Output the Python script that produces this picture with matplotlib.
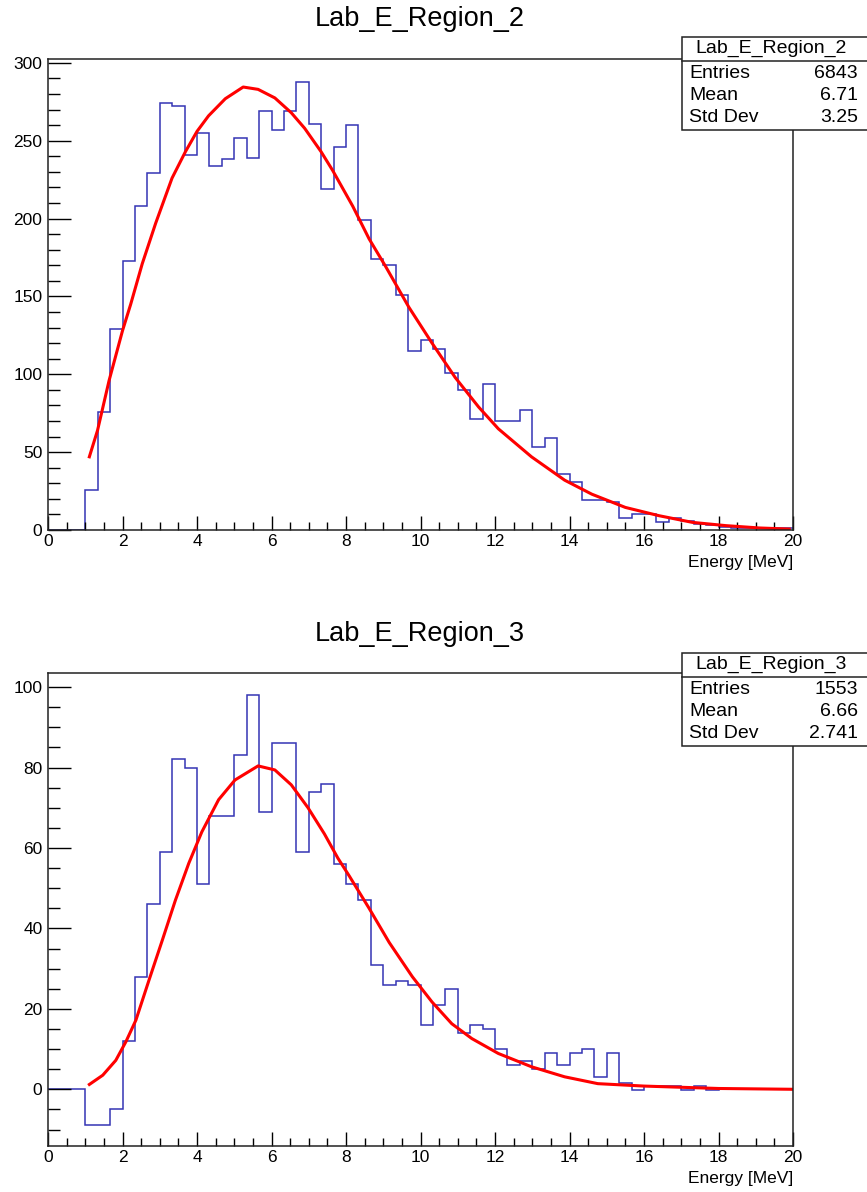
import numpy as np
import matplotlib
matplotlib.use("Agg")
import matplotlib.pyplot as plt
from matplotlib.patches import Rectangle
from matplotlib.lines import Line2D
from matplotlib.ticker import MultipleLocator

plt.rcParams['font.family'] = ['Liberation Sans', 'DejaVu Sans']

# ---- Data (60 bins of 1/3 MeV from 0 to 20) ----
bin_edges = np.linspace(0, 20, 61)

region2_counts = [0, 0, 0, 26, 76, 129, 173, 208, 229, 274, 272, 241,
                  255, 234, 238, 252, 239, 269, 257, 269, 288, 261, 219, 246,
                  260, 199, 174, 170, 151, 115, 122, 116, 101, 90, 71, 94,
                  70, 70, 77, 53, 59, 36, 31, 19, 19, 18, 8, 10,
                  10, 5, 7.5, 6, 4, 3, 2, 1, 1, 1, 1, 1]
region3_counts = [0, 0, 0, -8.8, -8.8, -4.8, 12, 28, 46, 59, 82, 80,
                  51, 68, 68, 83, 98, 69, 86, 86, 59, 74, 76, 56,
                  51, 47, 31, 26, 27, 26, 16, 21, 25, 14, 16, 15,
                  10, 6, 7, 5, 9, 6, 9, 10, 3, 9, 1.5, -0.3,
                  0.8, 0.8, 0.8, -0.2, 0.8, -0.2, 0, 0, 0, 0, 0, 0]

# fit curves
region2_fit_x = [1.11, 1.33, 1.64, 2.0, 2.22, 2.53, 2.89, 3.33, 3.69, 4.0, 4.31, 4.76,
                 5.24, 5.64, 6.09, 6.53, 6.89, 7.33, 7.64, 8.18, 8.62, 9.07, 9.69,
                 10.31, 10.93, 11.56, 12.09, 12.98, 13.87, 14.6, 15.5, 16.4, 17.3,
                 18.2, 19.1, 19.9]
region2_fit_y = [47, 64, 96, 128, 145, 171, 197, 226, 243, 256, 266, 277,
                 284.5, 283, 277.5, 268, 258, 243, 231, 208, 187, 169, 143,
                 120, 98, 79, 65, 47, 32, 23, 14.5, 9.2, 4.9,
                 2.8, 1.3, 0.6]
region3_fit_x = [1.11, 1.47, 1.82, 2.09, 2.36, 2.71, 3.07, 3.42, 3.78, 4.13, 4.58, 5.02,
                 5.64, 6.09, 6.53, 6.98, 7.42, 7.78, 8.09, 8.62, 9.16, 9.78, 10.31,
                 10.84, 11.38, 12.09, 12.98, 13.87, 14.76, 16.0, 18.0, 20.0]
region3_fit_y = [1.2, 3.5, 7.2, 11.8, 17.2, 27.1, 37.1, 47, 56.2, 64, 72, 76.9,
                 80.4, 79.4, 75.7, 70, 63.5, 57.5, 53, 45, 36.5, 28, 21.7,
                 16.3, 12.6, 8.9, 5.6, 3.1, 1.4, 0.8, 0.2, 0.0]

names = ["Lab_E_Region_2", "Lab_E_Region_3"]
entries = ["6843", "1553"]
means = ["6.71", "6.66"]
stddevs = ["3.25", "2.741"]

# ---- Plotting ----
W, H = 867, 1192
fig = plt.figure(figsize=(W / 100, H / 100), dpi=100)

def fx(px):
    return px / W

def fy(py):
    return 1 - py / H

panels = [
    dict(counts=region2_counts, fx_=region2_fit_x, fy_=region2_fit_y, top=59, bottom=530,
         ylim=(0, 302.5), major=50, minor=10, title_y=19, box_y=37),
    dict(counts=region3_counts, fx_=region3_fit_x, fy_=region3_fit_y, top=673, bottom=1146,
         ylim=(-14.1, 103.5), major=20, minor=5, title_y=634, box_y=653),
]

for i, p in enumerate(panels):
    ax = fig.add_axes([fx(48), fy(p['bottom']), fx(793) - fx(48), (p['bottom'] - p['top']) / H])
    ax.stairs(p['counts'], bin_edges, baseline=None, color='#3434b4', lw=1.1)
    ax.plot(p['fx_'], p['fy_'], color='red', lw=2.2, solid_joinstyle='round')

    ax.set_xlim(0, 20)
    ax.set_ylim(*p['ylim'])
    ax.xaxis.set_major_locator(MultipleLocator(2))
    ax.xaxis.set_minor_locator(MultipleLocator(0.5))
    ax.yaxis.set_major_locator(MultipleLocator(p['major']))
    ax.yaxis.set_minor_locator(MultipleLocator(p['minor']))
    ax.tick_params(axis='x', which='major', direction='in', length=10, width=1, labelsize=12.5, pad=3)
    ax.tick_params(axis='x', which='minor', direction='in', length=5.5, width=1)
    ax.tick_params(axis='y', which='major', direction='in', length=16.5, width=1, labelsize=12.5, pad=4)
    ax.tick_params(axis='y', which='minor', direction='in', length=8.5, width=1)
    for s in ax.spines.values():
        s.set_linewidth(1.1)
        s.set_color('#222222')

    fig.text(fx(420), fy(p['title_y']), names[i], ha='center', va='center', fontsize=19.5)
    fig.text(fx(793), fy(p['bottom'] + 32), "Energy [MeV]", ha='right', va='center', fontsize=12.5)

    # stats box
    y0 = p['box_y']
    fig.add_artist(Rectangle((fx(682), fy(y0 + 93)), fx(875) - fx(682), 93 / H,
                             transform=fig.transFigure, facecolor='white',
                             edgecolor='#222222', lw=1.1, zorder=5))
    fig.add_artist(Line2D([fx(682), fx(875)], [fy(y0 + 24), fy(y0 + 24)],
                          transform=fig.transFigure, color='#222222', lw=1.1, zorder=6))
    fig.text(fx(771), fy(y0 + 11), names[i], ha='center', va='center', fontsize=14, zorder=7)
    rows = [("Entries", entries[i]), ("Mean", means[i]), ("Std Dev", stddevs[i])]
    for k, (lab, val) in enumerate(rows):
        yy = fy(y0 + 36 + 22 * k)
        fig.text(fx(689), yy, lab, ha='left', va='center', fontsize=14, zorder=7)
        fig.text(fx(858), yy, val, ha='right', va='center', fontsize=14, zorder=7)

fig.savefig("out.png", dpi=100)
